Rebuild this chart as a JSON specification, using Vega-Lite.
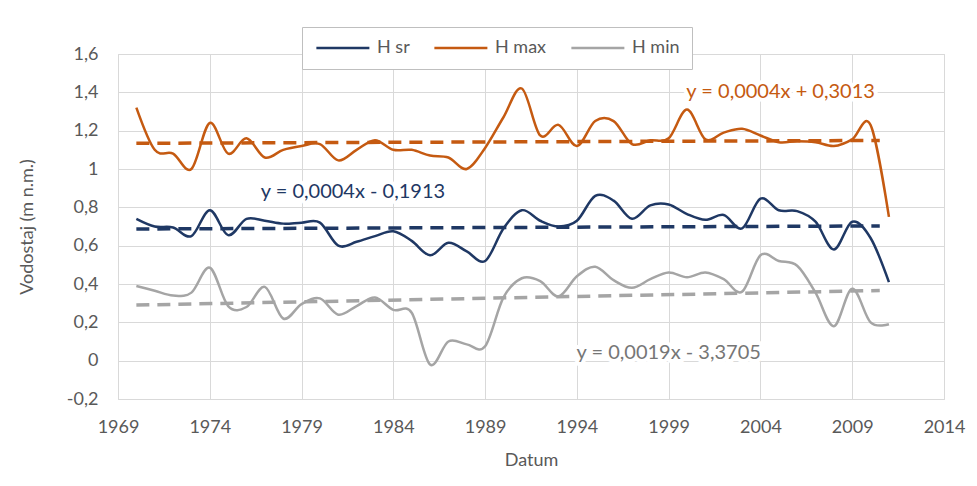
{
  "$schema": "https://vega.github.io/schema/vega-lite/v6.json",
  "width": 826,
  "height": 345,
  "autosize": {"type": "none"},
  "padding": {"left": 118, "top": 54, "right": 33, "bottom": 87},
  "background": "white",
  "config": {
    "font": "Lato",
    "view": {"stroke": "#d9d9d9", "strokeWidth": 1},
    "axis": {
      "gridColor": "#d9d9d9", "gridWidth": 1, "domain": false, "ticks": false, "tickSize": 0,
      "labelColor": "#595959", "titleColor": "#595959", "labelFontSize": 18, "titleFontSize": 18,
      "titleFontWeight": "normal", "labelFont": "Lato", "titleFont": "Lato"
    },
    "legend": {
      "orient": "none", "legendX": 184, "legendY": -27, "direction": "horizontal",
      "fillColor": "white", "strokeColor": "#bfbfbf", "padding": 12,
      "symbolType": "M-1,0H7", "symbolSize": 175.6, "symbolStrokeWidth": 2.5,
      "labelFontSize": 18, "labelColor": "#595959", "labelFont": "Lato", "labelOffset": 45,
      "columnPadding": 19, "title": null
    }
  },
  "datasets": {
    "series": [
      {"year": 1970, "series": "H max", "value": 1.32}, {"year": 1971, "series": "H max", "value": 1.10},
      {"year": 1972, "series": "H max", "value": 1.08}, {"year": 1973, "series": "H max", "value": 1.00},
      {"year": 1974, "series": "H max", "value": 1.24}, {"year": 1975, "series": "H max", "value": 1.08},
      {"year": 1976, "series": "H max", "value": 1.16}, {"year": 1977, "series": "H max", "value": 1.06},
      {"year": 1978, "series": "H max", "value": 1.10}, {"year": 1979, "series": "H max", "value": 1.12},
      {"year": 1980, "series": "H max", "value": 1.13}, {"year": 1981, "series": "H max", "value": 1.045},
      {"year": 1982, "series": "H max", "value": 1.10}, {"year": 1983, "series": "H max", "value": 1.15},
      {"year": 1984, "series": "H max", "value": 1.10}, {"year": 1985, "series": "H max", "value": 1.10},
      {"year": 1986, "series": "H max", "value": 1.07}, {"year": 1987, "series": "H max", "value": 1.06},
      {"year": 1988, "series": "H max", "value": 1.00}, {"year": 1989, "series": "H max", "value": 1.11},
      {"year": 1990, "series": "H max", "value": 1.27}, {"year": 1991, "series": "H max", "value": 1.42},
      {"year": 1992, "series": "H max", "value": 1.175}, {"year": 1993, "series": "H max", "value": 1.23},
      {"year": 1994, "series": "H max", "value": 1.12}, {"year": 1995, "series": "H max", "value": 1.25},
      {"year": 1996, "series": "H max", "value": 1.25}, {"year": 1997, "series": "H max", "value": 1.13},
      {"year": 1998, "series": "H max", "value": 1.15}, {"year": 1999, "series": "H max", "value": 1.16},
      {"year": 2000, "series": "H max", "value": 1.31}, {"year": 2001, "series": "H max", "value": 1.155},
      {"year": 2002, "series": "H max", "value": 1.19}, {"year": 2003, "series": "H max", "value": 1.21},
      {"year": 2004, "series": "H max", "value": 1.175}, {"year": 2005, "series": "H max", "value": 1.14},
      {"year": 2006, "series": "H max", "value": 1.145}, {"year": 2007, "series": "H max", "value": 1.14},
      {"year": 2008, "series": "H max", "value": 1.12}, {"year": 2009, "series": "H max", "value": 1.155},
      {"year": 2010, "series": "H max", "value": 1.23}, {"year": 2011, "series": "H max", "value": 0.75},

      {"year": 1970, "series": "H sr", "value": 0.74}, {"year": 1971, "series": "H sr", "value": 0.70},
      {"year": 1972, "series": "H sr", "value": 0.695}, {"year": 1973, "series": "H sr", "value": 0.65},
      {"year": 1974, "series": "H sr", "value": 0.785}, {"year": 1975, "series": "H sr", "value": 0.655},
      {"year": 1976, "series": "H sr", "value": 0.74}, {"year": 1977, "series": "H sr", "value": 0.73},
      {"year": 1978, "series": "H sr", "value": 0.715}, {"year": 1979, "series": "H sr", "value": 0.72},
      {"year": 1980, "series": "H sr", "value": 0.72}, {"year": 1981, "series": "H sr", "value": 0.60},
      {"year": 1982, "series": "H sr", "value": 0.62}, {"year": 1983, "series": "H sr", "value": 0.65},
      {"year": 1984, "series": "H sr", "value": 0.675}, {"year": 1985, "series": "H sr", "value": 0.625},
      {"year": 1986, "series": "H sr", "value": 0.55}, {"year": 1987, "series": "H sr", "value": 0.615},
      {"year": 1988, "series": "H sr", "value": 0.57}, {"year": 1989, "series": "H sr", "value": 0.52},
      {"year": 1990, "series": "H sr", "value": 0.69}, {"year": 1991, "series": "H sr", "value": 0.785},
      {"year": 1992, "series": "H sr", "value": 0.73}, {"year": 1993, "series": "H sr", "value": 0.70},
      {"year": 1994, "series": "H sr", "value": 0.73}, {"year": 1995, "series": "H sr", "value": 0.86},
      {"year": 1996, "series": "H sr", "value": 0.835}, {"year": 1997, "series": "H sr", "value": 0.74},
      {"year": 1998, "series": "H sr", "value": 0.81}, {"year": 1999, "series": "H sr", "value": 0.815},
      {"year": 2000, "series": "H sr", "value": 0.765}, {"year": 2001, "series": "H sr", "value": 0.735},
      {"year": 2002, "series": "H sr", "value": 0.76}, {"year": 2003, "series": "H sr", "value": 0.69},
      {"year": 2004, "series": "H sr", "value": 0.845}, {"year": 2005, "series": "H sr", "value": 0.785},
      {"year": 2006, "series": "H sr", "value": 0.78}, {"year": 2007, "series": "H sr", "value": 0.725},
      {"year": 2008, "series": "H sr", "value": 0.58}, {"year": 2009, "series": "H sr", "value": 0.725},
      {"year": 2010, "series": "H sr", "value": 0.64}, {"year": 2011, "series": "H sr", "value": 0.41},

      {"year": 1970, "series": "H min", "value": 0.39}, {"year": 1971, "series": "H min", "value": 0.365},
      {"year": 1972, "series": "H min", "value": 0.34}, {"year": 1973, "series": "H min", "value": 0.355},
      {"year": 1974, "series": "H min", "value": 0.485}, {"year": 1975, "series": "H min", "value": 0.285},
      {"year": 1976, "series": "H min", "value": 0.28}, {"year": 1977, "series": "H min", "value": 0.385},
      {"year": 1978, "series": "H min", "value": 0.22}, {"year": 1979, "series": "H min", "value": 0.295},
      {"year": 1980, "series": "H min", "value": 0.325}, {"year": 1981, "series": "H min", "value": 0.24},
      {"year": 1982, "series": "H min", "value": 0.285}, {"year": 1983, "series": "H min", "value": 0.33},
      {"year": 1984, "series": "H min", "value": 0.265}, {"year": 1985, "series": "H min", "value": 0.25},
      {"year": 1986, "series": "H min", "value": -0.02}, {"year": 1987, "series": "H min", "value": 0.10},
      {"year": 1988, "series": "H min", "value": 0.085}, {"year": 1989, "series": "H min", "value": 0.075},
      {"year": 1990, "series": "H min", "value": 0.33}, {"year": 1991, "series": "H min", "value": 0.43},
      {"year": 1992, "series": "H min", "value": 0.415}, {"year": 1993, "series": "H min", "value": 0.335},
      {"year": 1994, "series": "H min", "value": 0.44}, {"year": 1995, "series": "H min", "value": 0.49},
      {"year": 1996, "series": "H min", "value": 0.42}, {"year": 1997, "series": "H min", "value": 0.38},
      {"year": 1998, "series": "H min", "value": 0.425}, {"year": 1999, "series": "H min", "value": 0.46},
      {"year": 2000, "series": "H min", "value": 0.435}, {"year": 2001, "series": "H min", "value": 0.46},
      {"year": 2002, "series": "H min", "value": 0.425}, {"year": 2003, "series": "H min", "value": 0.36},
      {"year": 2004, "series": "H min", "value": 0.55}, {"year": 2005, "series": "H min", "value": 0.52},
      {"year": 2006, "series": "H min", "value": 0.495}, {"year": 2007, "series": "H min", "value": 0.355},
      {"year": 2008, "series": "H min", "value": 0.18}, {"year": 2009, "series": "H min", "value": 0.375},
      {"year": 2010, "series": "H min", "value": 0.20}, {"year": 2011, "series": "H min", "value": 0.19}
    ],
    "trend": [
      {"year": 1970, "series": "H max", "value": 1.134}, {"year": 2010.5, "series": "H max", "value": 1.149},
      {"year": 1970, "series": "H sr", "value": 0.687}, {"year": 2010.5, "series": "H sr", "value": 0.703},
      {"year": 1970, "series": "H min", "value": 0.29}, {"year": 2010.5, "series": "H min", "value": 0.366}
    ],
    "notes": [
      {"year": 2005.1, "series": "H max", "value": 1.40, "label": "y = 0,0004x + 0,3013"},
      {"year": 1981.8, "series": "H sr", "value": 0.88, "label": "y = 0,0004x - 0,1913"},
      {"year": 1999.0, "series": "H min", "value": 0.04, "label": "y = 0,0019x - 3,3705"}
    ]
  },
  "encoding": {
    "x": {
      "field": "year", "type": "quantitative",
      "scale": {"domain": [1969, 2014], "nice": false, "zero": false},
      "axis": {
        "title": "Datum", "values": [1969, 1974, 1979, 1984, 1989, 1994, 1999, 2004, 2009, 2014],
        "format": "d", "labelPadding": 19, "titlePadding": 15, "labelFlush": false
      }
    },
    "y": {
      "field": "value", "type": "quantitative",
      "scale": {"domain": [-0.2, 1.6], "nice": false, "zero": false},
      "axis": {
        "title": "Vodostaj (m n.m.)", "values": [-0.2, 0, 0.2, 0.4, 0.6, 0.8, 1, 1.2, 1.4, 1.6],
        "labelExpr": "replace(replace(format(datum.value, '.1~f'), '.', ','), '\u2212', '-')",
        "labelPadding": 20, "titlePadding": 30
      }
    }
  },
  "resolve": {"scale": {"color": "independent"}},
  "layer": [
    {
      "data": {"name": "trend"},
      "mark": {"type": "line", "strokeDash": [13, 8], "strokeWidth": 3.5},
      "encoding": {
        "color": {
          "field": "series", "type": "nominal", "legend": null,
          "scale": {"domain": ["H sr", "H max", "H min"], "range": ["#1F3864", "#C55A11", "#A5A5A5"]}
        }
      }
    },
    {
      "data": {"name": "series"},
      "mark": {"type": "line", "interpolate": "cardinal", "strokeWidth": 2.5},
      "encoding": {
        "color": {
          "field": "series", "type": "nominal",
          "scale": {"domain": ["H sr", "H max", "H min"], "range": ["#1F3864", "#C55A11", "#A5A5A5"]}
        }
      }
    },
    {
      "data": {"name": "notes"},
      "mark": {"type": "text", "fontSize": 20, "font": "Lato", "stroke": "white", "strokeWidth": 8, "fill": "white", "strokeJoin": "round"},
      "encoding": {"text": {"field": "label"}}
    },
    {
      "data": {"name": "notes"},
      "mark": {"type": "text", "fontSize": 20, "font": "Lato"},
      "encoding": {
        "text": {"field": "label"},
        "color": {
          "field": "series", "type": "nominal", "legend": null,
          "scale": {"domain": ["H sr", "H max", "H min"], "range": ["#1F3864", "#C55A11", "#767676"]}
        }
      }
    }
  ]
}
